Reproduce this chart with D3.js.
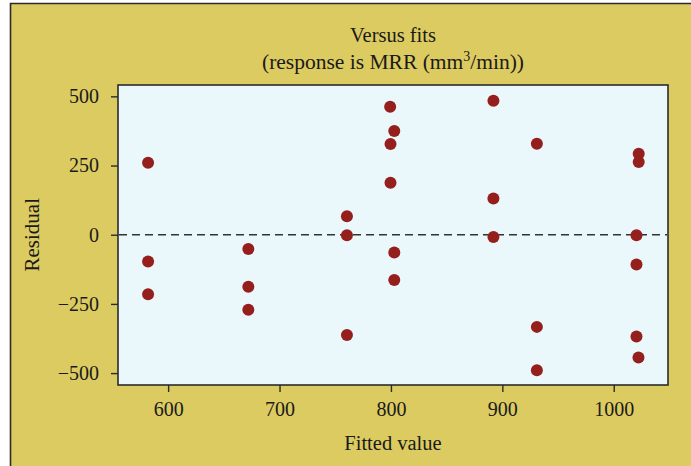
<!DOCTYPE html>
<html>
<head>
<meta charset="utf-8">
<script src="https://cdn.jsdelivr.net/npm/d3@7"></script>
<style>
  body { margin: 0; background: #fff; }
  text { font-family: "Liberation Serif", "DejaVu Serif", serif; fill: #1a1a1a; }
</style>
</head>
<body>
<script>
'use strict';

// fitted values and residuals
let fitted = [582, 582, 582, 672, 672, 672, 760.5, 760.5, 760.5,
  799.3, 803, 799.6, 799.6, 803, 803,
  892, 892, 892, 931, 931, 931,
  1022.4, 1022.4, 1020.4, 1020.4, 1020.4, 1022.2];
let residual = [260, -97, -215, -52, -188, -271, 67, -2, -362,
  462, 375, 328, 188, -64, -164,
  484, 131, -8, 329, -333, -490,
  293, 263, -2, -108, -368, -444];
let xTicks = [600, 700, 800, 900, 1000];
let yTicks = [500, 250, 0, -250, -500];

let width = 691;
let height = 466;
let margin = { left: 118, right: 23, top: 85, bottom: 81 };

let svg = d3.select('body')
  .append('svg')
  .attr('width', width)
  .attr('height', height);

// outer yellow panel with dark top/left edges
svg.append('rect')
  .attr('x', 10).attr('y', 3)
  .attr('width', width - 10).attr('height', height - 3)
  .attr('fill', '#dccb60');
svg.append('path')
  .attr('d', 'M10.5,' + height + 'V3.5H' + width)
  .attr('fill', 'none')
  .attr('stroke', '#2b2b2b')
  .attr('stroke-width', 1.6);

let xScale = d3.scaleLinear()
  .domain([555, 1048.7])
  .range([margin.left, width - margin.right]);
let yScale = d3.scaleLinear()
  .domain([-543, 541])
  .range([height - margin.bottom, margin.top]);

svg.append('rect')
  .attr('x', margin.left)
  .attr('y', margin.top)
  .attr('width', width - margin.left - margin.right)
  .attr('height', height - margin.top - margin.bottom)
  .attr('fill', '#eaf7fb')
  .attr('stroke', '#2b2b2b')
  .attr('stroke-width', 1.6);

let xAxis = svg.append('g')
  .attr('transform', 'translate(0,' + (height - margin.bottom) + ')')
  .call(d3.axisBottom(xScale).tickValues(xTicks).tickSize(7).tickPadding(10).tickSizeOuter(0)
    .tickFormat(d => String(d)));
let yAxis = svg.append('g')
  .attr('transform', 'translate(' + margin.left + ',0)')
  .call(d3.axisLeft(yScale).tickValues(yTicks).tickSize(7).tickPadding(12).tickSizeOuter(0)
    .tickFormat(d => d < 0 ? '\u2212' + Math.abs(d) : String(d)));

[xAxis, yAxis].forEach(function(ax) {
  ax.select('.domain').remove();
  ax.selectAll('line').attr('stroke', '#2b2b2b').attr('stroke-width', 1.4);
  ax.selectAll('text')
    .style('font-family', '"Liberation Serif", serif')
    .style('font-size', '20px')
    .attr('fill', '#1a1a1a');
});

// zero reference line
svg.append('line')
  .attr('x1', margin.left + 1)
  .attr('x2', width - margin.right - 1)
  .attr('y1', yScale(0))
  .attr('y2', yScale(0))
  .attr('stroke', '#333')
  .attr('stroke-width', 1.4)
  .attr('stroke-dasharray', '8,5');

svg.selectAll('.dots')
  .data(fitted.map((f, i) => ({ x: f, y: residual[i] })))
  .enter()
  .append('circle')
  .attr('cx', d => xScale(d.x))
  .attr('cy', d => yScale(d.y))
  .attr('r', 6)
  .attr('fill', '#951f1c');

// titles
let cx = (margin.left + width - margin.right) / 2;
svg.append('text')
  .attr('x', cx).attr('y', 42)
  .attr('text-anchor', 'middle')
  .style('font-size', '20.5px')
  .text('Versus fits');
let sub = svg.append('text')
  .attr('x', cx).attr('y', 69)
  .attr('text-anchor', 'middle')
  .style('font-size', '21.5px');
sub.append('tspan').text('(response is MRR (mm');
sub.append('tspan').attr('dy', -8).style('font-size', '14px').text('3');
sub.append('tspan').attr('dy', 8).text('/min))');

svg.append('text')
  .attr('x', cx).attr('y', 450)
  .attr('text-anchor', 'middle')
  .style('font-size', '20.5px')
  .text('Fitted value');
svg.append('text')
  .attr('transform', 'translate(39,' + yScale(0) + ')rotate(-90)')
  .attr('text-anchor', 'middle')
  .style('font-size', '21px')
  .text('Residual');
</script>
</body>
</html>
